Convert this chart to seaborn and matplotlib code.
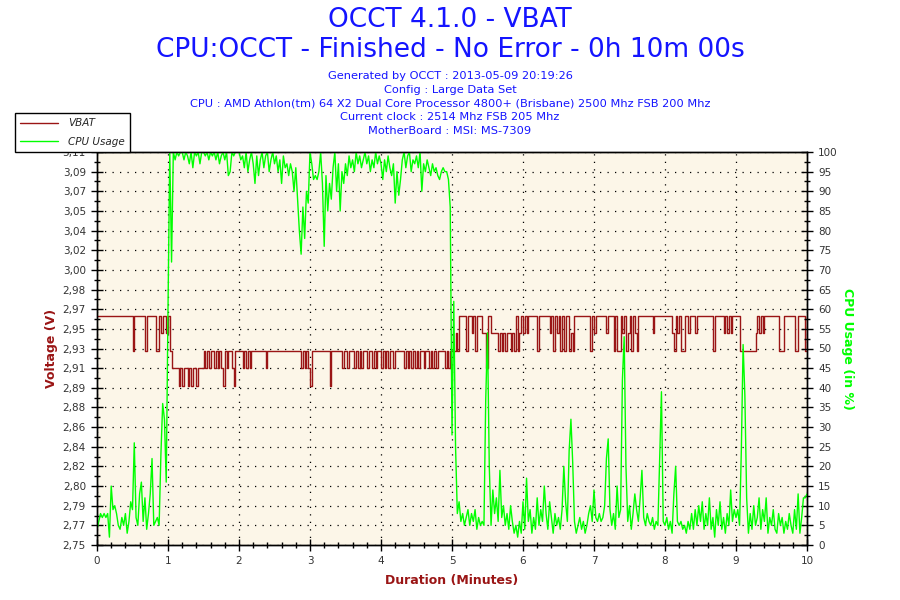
import numpy as np
import pandas as pd
import matplotlib
matplotlib.use("Agg")
import matplotlib.pyplot as plt
import seaborn as sns
from matplotlib.ticker import MultipleLocator, FixedLocator

# === Data (one sample every 0.025 min) ===
minutes = np.round(np.arange(0, 10.0001, 0.025), 3)

cpu_usage = [
    4, 6, 8, 7, 8, 7, 8, 2, 15, 9, 10, 8, 5, 4, 7, 5, 8, 3, 6, 11,
    9, 26, 7, 5, 13, 16, 6, 12, 4, 8, 13, 22, 5, 6, 7, 5, 23, 36, 32, 16,
    60, 100, 72, 100, 98, 100, 99, 100, 100, 98, 100, 99, 97, 100, 96, 100, 99, 100, 97, 100,
    100, 99, 100, 98, 100, 99, 100, 98, 100, 97, 99, 100, 98, 100, 94, 95, 100, 99, 100, 100,
    100, 98, 99, 96, 100, 95, 98, 100, 97, 92, 99, 94, 98, 100, 96, 99, 100, 95, 98, 100,
    97, 99, 95, 98, 92, 99, 96, 97, 94, 97, 95, 90, 96, 88, 80, 74, 86, 78, 90, 87,
    100, 97, 93, 94, 93, 95, 100, 92, 76, 94, 85, 92, 88, 96, 100, 90, 97, 85, 95, 92,
    97, 94, 99, 96, 98, 95, 100, 97, 99, 96, 98, 100, 97, 99, 95, 98, 96, 100, 97, 99,
    97, 93, 98, 95, 99, 96, 94, 97, 87, 95, 89, 93, 98, 100, 96, 99, 100, 95, 98, 97,
    99, 96, 100, 90, 97, 95, 98, 96, 94, 97, 95, 96, 94, 93, 95, 96, 95, 95, 93, 86,
    28, 62, 25, 8, 11, 6, 8, 5, 7, 9, 5, 8, 6, 9, 4, 7, 5, 6, 5, 37,
    54, 20, 5, 14, 8, 12, 6, 19, 7, 10, 5, 8, 4, 10, 6, 3, 5, 2, 6, 3,
    11, 4, 17, 6, 9, 3, 7, 4, 12, 5, 9, 6, 15, 8, 4, 11, 7, 3, 8, 5,
    7, 4, 9, 20, 11, 6, 24, 32, 21, 6, 3, 5, 7, 4, 6, 3, 5, 8, 10, 6,
    14, 7, 6, 8, 6, 7, 10, 22, 27, 9, 5, 8, 4, 15, 7, 9, 42, 53, 20, 6,
    10, 4, 8, 13, 9, 6, 12, 19, 7, 5, 8, 6, 5, 7, 4, 6, 5, 22, 39, 6,
    5, 7, 4, 6, 3, 13, 20, 6, 5, 6, 4, 5, 3, 6, 4, 8, 4, 9, 5, 10,
    6, 11, 4, 8, 5, 12, 4, 7, 2, 9, 5, 11, 4, 7, 3, 8, 5, 14, 6, 9,
    7, 9, 5, 24, 51, 38, 12, 3, 8, 4, 10, 5, 7, 12, 4, 9, 6, 12, 3, 7,
    5, 9, 4, 3, 8, 5, 7, 3, 6, 4, 8, 5, 3, 9, 4, 13, 3, 7, 12, 12,
    13,
]

vbat = [
    2.960, 2.960, 2.960, 2.960, 2.960, 2.960, 2.960, 2.960, 2.960, 2.960, 2.960, 2.960, 2.960, 2.960, 2.960, 2.960, 2.960, 2.960, 2.960, 2.960,
    2.928, 2.960, 2.960, 2.960, 2.960, 2.960, 2.960, 2.928, 2.960, 2.960, 2.960, 2.960, 2.960, 2.928, 2.928, 2.960, 2.944, 2.960, 2.960, 2.944,
    2.960, 2.928, 2.912, 2.912, 2.912, 2.912, 2.896, 2.912, 2.896, 2.912, 2.912, 2.896, 2.912, 2.896, 2.912, 2.912, 2.896, 2.912, 2.912, 2.912,
    2.928, 2.912, 2.928, 2.912, 2.928, 2.928, 2.912, 2.928, 2.912, 2.928, 2.912, 2.896, 2.928, 2.912, 2.928, 2.928, 2.912, 2.896, 2.928, 2.928,
    2.928, 2.928, 2.912, 2.928, 2.912, 2.928, 2.912, 2.928, 2.928, 2.928, 2.928, 2.928, 2.928, 2.928, 2.928, 2.912, 2.928, 2.928, 2.928, 2.928,
    2.928, 2.928, 2.928, 2.928, 2.928, 2.928, 2.928, 2.928, 2.928, 2.928, 2.928, 2.928, 2.928, 2.928, 2.928, 2.912, 2.928, 2.912, 2.928, 2.912,
    2.896, 2.928, 2.928, 2.928, 2.928, 2.928, 2.928, 2.928, 2.928, 2.928, 2.928, 2.896, 2.928, 2.928, 2.928, 2.928, 2.928, 2.928, 2.912, 2.928,
    2.928, 2.912, 2.928, 2.928, 2.928, 2.912, 2.928, 2.912, 2.928, 2.912, 2.928, 2.928, 2.912, 2.928, 2.928, 2.912, 2.928, 2.912, 2.928, 2.928,
    2.912, 2.928, 2.912, 2.928, 2.912, 2.928, 2.928, 2.912, 2.928, 2.928, 2.928, 2.928, 2.928, 2.912, 2.928, 2.912, 2.928, 2.912, 2.928, 2.912,
    2.928, 2.912, 2.928, 2.928, 2.912, 2.928, 2.928, 2.912, 2.928, 2.912, 2.928, 2.912, 2.928, 2.928, 2.928, 2.928, 2.912, 2.928, 2.912, 2.928,
    2.928, 2.928, 2.944, 2.928, 2.960, 2.960, 2.960, 2.960, 2.928, 2.960, 2.960, 2.944, 2.960, 2.928, 2.960, 2.960, 2.960, 2.944, 2.944, 2.912,
    2.960, 2.960, 2.944, 2.944, 2.944, 2.944, 2.928, 2.944, 2.928, 2.944, 2.928, 2.944, 2.944, 2.928, 2.944, 2.928, 2.960, 2.928, 2.944, 2.960,
    2.944, 2.960, 2.944, 2.960, 2.960, 2.960, 2.960, 2.960, 2.928, 2.960, 2.960, 2.960, 2.960, 2.960, 2.960, 2.944, 2.960, 2.928, 2.960, 2.944,
    2.960, 2.928, 2.960, 2.928, 2.960, 2.960, 2.928, 2.944, 2.928, 2.960, 2.960, 2.960, 2.960, 2.960, 2.960, 2.960, 2.960, 2.960, 2.928, 2.960,
    2.944, 2.960, 2.960, 2.960, 2.960, 2.960, 2.960, 2.944, 2.960, 2.960, 2.960, 2.928, 2.960, 2.928, 2.928, 2.960, 2.944, 2.960, 2.928, 2.944,
    2.960, 2.928, 2.960, 2.944, 2.928, 2.960, 2.960, 2.960, 2.960, 2.960, 2.960, 2.960, 2.960, 2.944, 2.960, 2.960, 2.960, 2.960, 2.960, 2.960,
    2.960, 2.960, 2.960, 2.960, 2.944, 2.928, 2.960, 2.944, 2.960, 2.928, 2.928, 2.960, 2.960, 2.944, 2.960, 2.960, 2.960, 2.944, 2.960, 2.960,
    2.960, 2.960, 2.960, 2.960, 2.960, 2.960, 2.960, 2.928, 2.960, 2.960, 2.960, 2.960, 2.960, 2.944, 2.960, 2.944, 2.960, 2.944, 2.960, 2.960,
    2.960, 2.960, 2.928, 2.928, 2.928, 2.928, 2.928, 2.928, 2.928, 2.928, 2.928, 2.944, 2.960, 2.944, 2.960, 2.944, 2.960, 2.960, 2.960, 2.960,
    2.960, 2.960, 2.960, 2.960, 2.928, 2.928, 2.928, 2.960, 2.960, 2.960, 2.960, 2.960, 2.960, 2.928, 2.928, 2.960, 2.960, 2.960, 2.960, 2.928,
    2.960,
]

volt_labels = ["2,75", "2,77", "2,79", "2,80", "2,82", "2,84", "2,86", "2,88", "2,89", "2,91", "2,93",
               "2,95", "2,97", "2,98", "3,00", "3,02", "3,04", "3,05", "3,07", "3,09", "3,11"]

title_lines = ["OCCT 4.1.0 - VBAT", "CPU:OCCT - Finished - No Error - 0h 10m 00s"]
info_lines = ["Generated by OCCT : 2013-05-09 20:19:26",
              "Config : Large Data Set",
              "CPU : AMD Athlon(tm) 64 X2 Dual Core Processor 4800+ (Brisbane) 2500 Mhz FSB 200 Mhz",
              "Current clock : 2514 Mhz FSB 205 Mhz",
              "MotherBoard : MSI: MS-7309"]

df = pd.DataFrame({"minutes": minutes, "vbat": vbat, "cpu": cpu_usage})

# === Style ===
sns.set_style("white")
plt.rcParams["font.family"] = ["DejaVu Sans"]

red = "#9a1515"
green = "#00ff00"
blue = "#1414ff"
tick_col = "#333333"

fig = plt.figure(figsize=(9, 6), dpi=100)
ax = fig.add_axes([97 / 900, 55 / 600, 710 / 900, 393 / 600])
ax.set_facecolor("#fcf6e8")

sns.lineplot(data=df, x="minutes", y="vbat", ax=ax, color=red, linewidth=1,
             drawstyle="steps-post", label="VBAT", legend=False)
ax2 = ax.twinx()
sns.lineplot(data=df, x="minutes", y="cpu", ax=ax2, color=green, linewidth=1,
             label="CPU Usage", legend=False)

ax.set_xlim(0, 10)
ax.set_ylim(2.75, 3.11)
ax2.set_ylim(0, 100)

volt_ticks = np.linspace(2.75, 3.11, len(volt_labels))
ax.yaxis.set_major_locator(FixedLocator(volt_ticks))
ax.set_yticklabels(volt_labels)
ax.yaxis.set_minor_locator(FixedLocator((volt_ticks[:-1] + volt_ticks[1:]) / 2))
ax.xaxis.set_major_locator(MultipleLocator(1))
ax.xaxis.set_minor_locator(MultipleLocator(0.2))
ax2.yaxis.set_major_locator(MultipleLocator(5))
ax2.yaxis.set_minor_locator(MultipleLocator(2.5))

for a in (ax, ax2):
    a.tick_params(which="major", direction="inout", length=9, width=1, colors="black",
                  labelcolor=tick_col, labelsize=7.5)
    a.tick_params(which="minor", direction="inout", length=5, width=1, colors="black")
    for s in a.spines.values():
        s.set_color("black")
        s.set_linewidth(1)
ax.tick_params(axis="y", which="both", left=True)
ax.tick_params(axis="x", which="both", bottom=True)
ax2.tick_params(axis="y", which="both", right=True)

ax.grid(True, which="major", color="black", linestyle=(0, (1, 5)), linewidth=0.9)

ax.set_xlabel("Duration (Minutes)", color=red, fontsize=9, fontweight="bold", labelpad=6)
ax.set_ylabel("Voltage (V)", color=red, fontsize=9, fontweight="bold", labelpad=3)
ax2.set_ylabel("CPU Usage (in %)", color=green, fontsize=9, fontweight="bold",
               rotation=270, labelpad=12)

# === Titles ===
fig.text(0.5, 1 - 20 / 600, title_lines[0], ha="center", va="center", color=blue, fontsize=19)
fig.text(0.5, 1 - 50 / 600, title_lines[1], ha="center", va="center", color=blue, fontsize=19)
for i, line in enumerate(info_lines):
    fig.text(0.5, 1 - (76 + 13.8 * i) / 600, line, ha="center", va="center", color=blue, fontsize=8.2)

# === Legend ===
handles = ax.get_lines()[:1] + ax2.get_lines()[:1]
leg = fig.legend(handles, ["VBAT", "CPU Usage"], loc="upper left",
                 bbox_to_anchor=(15 / 900, 1 - 113 / 600), borderaxespad=0, frameon=True,
                 fancybox=False, edgecolor="black", framealpha=1,
                 prop={"style": "italic", "size": 7.5},
                 handlelength=3.6, borderpad=0.5, labelspacing=0.8, handletextpad=1.0)
leg.get_frame().set_linewidth(1)

plt.savefig("out.png", dpi=100)
